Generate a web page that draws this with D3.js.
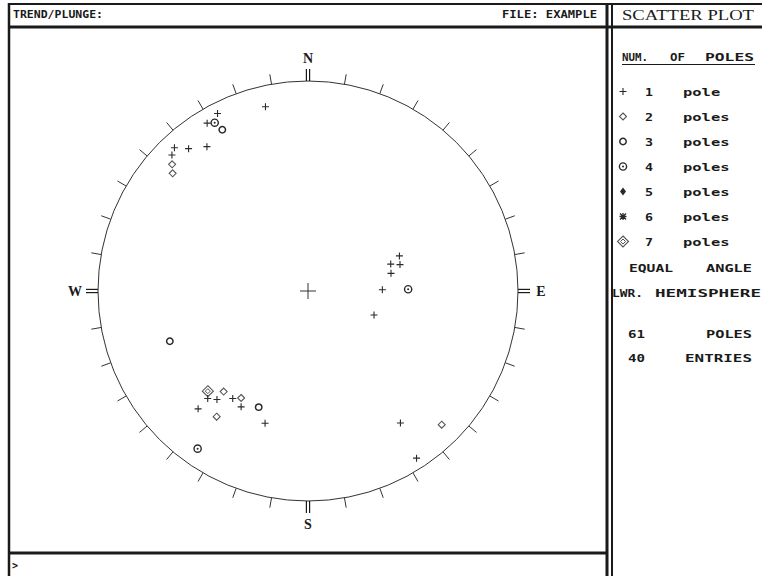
<!DOCTYPE html>
<html>
<head>
<meta charset="utf-8">
<script src="https://cdn.jsdelivr.net/npm/d3@7"></script>
<style>
html,body{margin:0;padding:0;background:#fff;}
svg{display:block;}
</style>
</head>
<body>
<svg id="chart" width="762" height="576"></svg>
<script>
// ---- data: poles (trend / plunge in degrees) and number of coincident poles ----
const poleTrend  = [347,333,329,331,332,317,320,325,315,313,311, 69, 72, 74, 78, 89, 89,110,225,220,223,220,215,212,223,210,203,216,198,215,145,135,147,250];
const polePlunge = [  6,  3,  4,  5,  8,  4,  7, 10,  5,  7,  9, 40, 45, 41, 46, 51, 39, 53, 22, 26, 20, 22, 26, 28, 15, 25, 28, 17, 23,  5, 15,  6,  3, 20];
const poleCount  = [  1,  1,  1,  4,  3,  1,  1,  1,  1,  2,  2,  1,  1,  1,  1,  1,  4,  1,  7,  2,  1,  1,  1,  2,  1,  1,  3,  2,  1,  4,  1,  2,  1,  3];

const legendCounts = [1,2,3,4,5,6,7];
const legendLabels = ["pole","poles","poles","poles","poles","poles","poles"];
const directionLabels = ["N","E","S","W"];
const directionAzimuths = [0,90,180,270];
const tickAzimuths = d3.range(0,360,10);
const headerLeft = "TREND/PLUNGE:";
const headerRight = "FILE: EXAMPLE";
const panelTitle = "SCATTER PLOT";
const projectionLabels = ["EQUAL","ANGLE","LWR.","HEMISPHERE"];
const totalPoles = 61;
const totalEntries = 40;

// ---- layout ----
const svg = d3.select("#chart");
const cx = 308, cy = 291, R = 210;
const ink = "#1a1a1a";

const xScale = d3.scaleLinear().domain([-1,1]).range([cx-R, cx+R]);
const yScale = d3.scaleLinear().domain([-1,1]).range([cy+R, cy-R]);
const rad = d3.scaleLinear().domain([0,360]).range([0, 2*Math.PI]);

// equal-angle (stereographic) lower-hemisphere projection
function project(t, p){
  const r = Math.tan(rad((90 - p)/2));
  return [xScale(r*Math.sin(rad(t))), yScale(r*Math.cos(rad(t)))];
}
function onCircle(az, k){
  return [xScale(k*Math.sin(rad(az))), yScale(k*Math.cos(rad(az)))];
}

// ---- frame ----
const frame = svg.append("g").attr("stroke", ink).attr("fill","none");
frame.append("line").attr("x1",8).attr("x2",762).attr("y1",4).attr("y2",4).attr("stroke-width",2);
frame.append("line").attr("x1",9).attr("x2",9).attr("y1",3).attr("y2",576).attr("stroke-width",2.5);
frame.append("line").attr("x1",8).attr("x2",762).attr("y1",27).attr("y2",27).attr("stroke-width",3);
frame.append("line").attr("x1",607).attr("x2",607).attr("y1",3).attr("y2",576).attr("stroke-width",3);
frame.append("line").attr("x1",612).attr("x2",612).attr("y1",3).attr("y2",576).attr("stroke-width",2);
frame.append("line").attr("x1",8).attr("x2",607).attr("y1",553).attr("y2",553).attr("stroke-width",3);

const mono = "'DejaVu Sans Mono', 'Liberation Mono', monospace";
const serif = "'Liberation Serif', 'DejaVu Serif', serif";

function monoText(g, str, x, y, len){
  const t = g.append("text").attr("x",x).attr("y",y).text(str)
    .attr("font-family",mono).attr("font-weight","bold").attr("font-size",11)
    .attr("fill",ink);
  if(len) t.attr("textLength",len).attr("lengthAdjust","spacingAndGlyphs");
  return t;
}

const header = svg.append("g");
monoText(header, headerLeft, 13, 18, 90);
monoText(header, headerRight, 502, 18, 95);
header.append("text").attr("x",622).attr("y",20).text(panelTitle)
  .attr("font-family",serif).attr("font-size",15).attr("fill",ink)
  .attr("textLength",132).attr("lengthAdjust","spacingAndGlyphs");
monoText(header, ">", 12, 569).attr("font-size",10);

// ---- stereonet ----
const net = svg.append("g");
net.append("circle").attr("cx",cx).attr("cy",cy).attr("r",R)
  .attr("fill","none").attr("stroke","#333").attr("stroke-width",1);

// 10-degree ticks
net.selectAll("line.tick").data(tickAzimuths.filter(a => a % 90 !== 0)).join("line")
  .attr("class","tick")
  .attr("x1", a => onCircle(a,1)[0]).attr("y1", a => onCircle(a,1)[1])
  .attr("x2", a => onCircle(a,1+10/R)[0]).attr("y2", a => onCircle(a,1+10/R)[1])
  .attr("stroke","#333").attr("stroke-width",1);

// double ticks at cardinal points
directionAzimuths.forEach(a => {
  [-1.6,1.6].forEach(off => {
    const s = Math.sin(rad(a)), c = Math.cos(rad(a));
    const p1 = onCircle(a,1), p2 = onCircle(a,1+12/R);
    const ox = c*off, oy = s*off;
    net.append("line")
      .attr("x1",p1[0]+ox).attr("y1",p1[1]+oy)
      .attr("x2",p2[0]+ox).attr("y2",p2[1]+oy)
      .attr("stroke",ink).attr("stroke-width",1.2);
  });
});

// cardinal labels
directionLabels.forEach((lab,i) => {
  const a = directionAzimuths[i];
  const p = onCircle(a, 1 + 23/R);
  net.append("text").attr("x",p[0]).attr("y",p[1]+5).text(lab)
    .attr("text-anchor","middle").attr("font-family",serif)
    .attr("font-weight","bold").attr("font-size",14).attr("fill",ink);
});

// center cross
net.append("line").attr("x1",xScale(-8/R)).attr("x2",xScale(8/R)).attr("y1",yScale(0)).attr("y2",yScale(0)).attr("stroke","#333");
net.append("line").attr("x1",xScale(0)).attr("x2",xScale(0)).attr("y1",yScale(-8/R)).attr("y2",yScale(8/R)).attr("stroke","#333");

// ---- symbols ----
function drawSymbol(g, n, x, y){
  const s = g.append("g").attr("transform",`translate(${x},${y})`);
  const col = "#2a2a2a";
  if(n === 1){
    s.append("path").attr("d","M-3.5,0H3.5M0,-3.5V3.5").attr("stroke",col).attr("stroke-width",1.1);
  } else if(n === 2){
    s.append("path").attr("d","M0,-3.5L3.5,0L0,3.5L-3.5,0Z").attr("fill","none").attr("stroke","#555").attr("stroke-width",1.1);
  } else if(n === 3){
    s.append("circle").attr("r",3.2).attr("fill","none").attr("stroke",col).attr("stroke-width",1.5);
  } else if(n === 4){
    s.append("circle").attr("r",3.6).attr("fill","none").attr("stroke",col).attr("stroke-width",1.4);
    s.append("circle").attr("r",1).attr("fill",col);
  } else if(n === 5){
    s.append("path").attr("d","M0,-4L3,0L0,4L-3,0Z").attr("fill",col);
  } else if(n === 6){
    s.append("path").attr("d","M-3.5,0H3.5M0,-3.5V3.5M-3,-3L3,3M-3,3L3,-3").attr("stroke",col).attr("stroke-width",1.3);
  } else if(n === 7){
    s.append("path").attr("d","M0,-5.5L5.5,0L0,5.5L-5.5,0Z").attr("fill","none").attr("stroke","#555").attr("stroke-width",1.1);
    s.append("path").attr("d","M0,-2.5L2.5,0L0,2.5L-2.5,0Z").attr("fill","none").attr("stroke","#555").attr("stroke-width",1);
  }
}

const poles = svg.append("g");
poleTrend.forEach((t,i) => {
  const [x,y] = project(t, polePlunge[i]);
  drawSymbol(poles, poleCount[i], x, y);
});

// ---- legend panel ----
const leg = svg.append("g");
monoText(leg, "NUM.", 622, 61, 26);
monoText(leg, "OF", 670, 61, 15);
monoText(leg, "POLES", 705, 61, 49);
leg.append("line").attr("x1",622).attr("x2",755).attr("y1",64.5).attr("y2",64.5).attr("stroke",ink).attr("stroke-width",1.2);

const rowY = d3.scaleLinear().domain([1,7]).range([91.5,241.5]);
legendCounts.forEach((n,i) => {
  const y = rowY(n);
  drawSymbol(leg, n, 623, y);
  monoText(leg, String(n), 645, y+4, 8);
  monoText(leg, legendLabels[i], 683, y+4, legendLabels[i].length*9.3);
});

monoText(leg, projectionLabels[0], 629, 272, 44);
monoText(leg, projectionLabels[1], 706, 272, 46);
monoText(leg, projectionLabels[2], 612, 297, 31);
monoText(leg, projectionLabels[3], 655, 297, 106);
monoText(leg, String(totalPoles), 628, 338, 17);
monoText(leg, "POLES", 706, 338, 46);
monoText(leg, String(totalEntries), 628, 362, 17);
monoText(leg, "ENTRIES", 685, 362, 67);
</script>
</body>
</html>
